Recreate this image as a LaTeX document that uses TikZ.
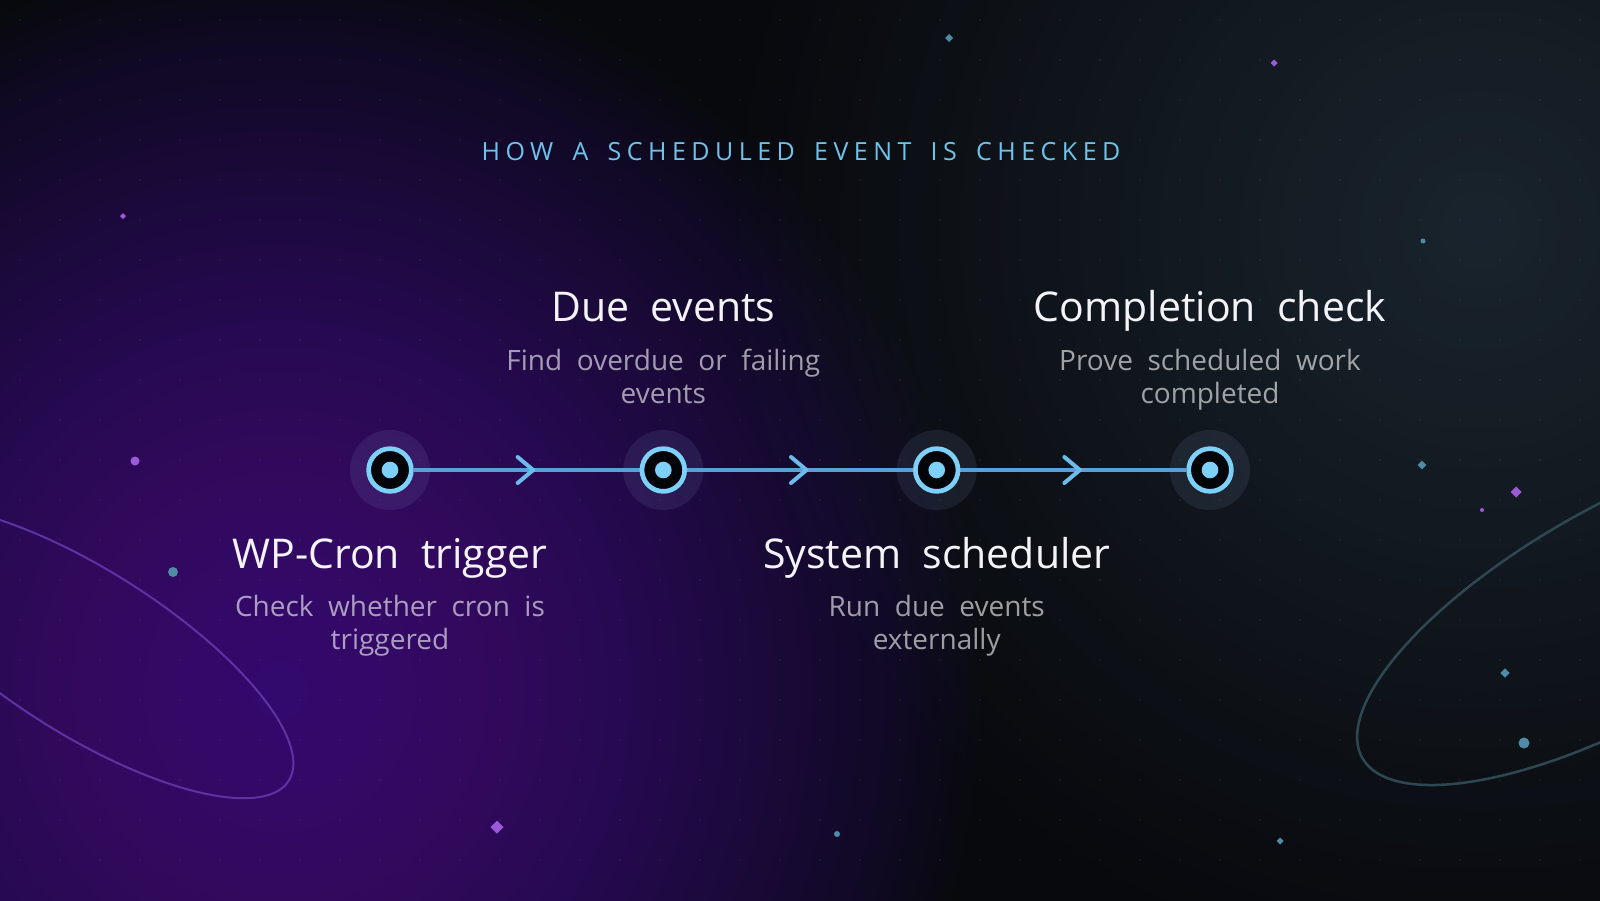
\documentclass[tikz,border=0pt]{standalone}
\usepackage{fontspec}
\setmainfont{Open Sans}
\newfontfamily\titlefont{Open Sans}[LetterSpace=22, WordSpace=1.6]
\newfontfamily\headfont{Open Sans}[WordSpace=1.6]
\newfontfamily\subfont{Open Sans}[WordSpace=2]
\usetikzlibrary{calc}
\definecolor{bgbase}{HTML}{08090D}
\definecolor{glowp}{HTML}{5C21A4}
\definecolor{glowt}{HTML}{1B2731}
\definecolor{ringc}{HTML}{7DD0F8}
\definecolor{linec}{HTML}{5AA0D6}
\definecolor{chevc}{HTML}{6CBBEB}
\definecolor{titlec}{HTML}{6FC3EB}
\definecolor{headc}{HTML}{F4F4F8}
\definecolor{sparkp}{HTML}{9B5BD8}
\definecolor{sparkt}{HTML}{4D8BA6}
\definecolor{ellp}{HTML}{5E32A3}
\definecolor{ellt}{HTML}{2D4852}
\definecolor{nodeblk}{HTML}{040509}
\definecolor{haloc}{HTML}{A8C8FF}
\pgfdeclarelayer{bg}
\pgfsetlayers{bg,main}
\newcommand\sparkd[3]{\fill[#1] (#2) +(0,-#3) -- +(#3,0) -- +(0,#3) -- +(-#3,0) -- cycle;}
\tikzset{
  halo/.style={circle, fill=haloc, fill opacity=0.09, minimum size=80pt, inner sep=0pt},
  ringnode/.style={circle, draw=ringc, line width=4.7pt, fill=nodeblk, minimum size=42.7pt, inner sep=0pt},
  corenode/.style={circle, fill=ringc, minimum size=16.6pt, inner sep=0pt},
  conn/.style={draw=linec, line width=4pt},
  chev/.style={draw=chevc, line width=4pt, line cap=round, line join=round},
  head/.style={anchor=base, text=headc, font=\headfont\fontsize{41}{49}\selectfont, inner sep=0pt},
  sub/.style={anchor=base, text=white, text opacity=0.6, font=\subfont\fontsize{28}{34}\selectfont, inner sep=0pt},
}
\begin{document}
\begin{tikzpicture}[x=1pt,y=-1pt]
\useasboundingbox (0,0) rectangle (1600,900);
% nodes (main layer)
\foreach \i/\x in {1/390,2/663.3,3/936.7,4/1210}{
  \node[ringnode] (r\i) at (\x,470) {};
  \node[corenode] (c\i) at (\x,470) {};
}
\begin{pgfonlayer}{bg}
\begin{scope}
\clip (-3,-3) rectangle (1603,903);
\fill[bgbase] (-3,-3) rectangle (1603,903);
\foreach \r [evaluate=\r as \p using {90*(1-\r/760)}] in {760,740,...,20}
  \fill[glowt!\p!bgbase] (1480,230) circle[radius=\r];
\foreach \r in {700,688,...,10} \fill[glowp, opacity=0.025] (280,690) ellipse[x radius=\r, y radius=1.05*\r];
\foreach \i in {0,...,39}{\foreach \j in {0,...,21}{\fill[white, opacity=0.05] ({20+40*\i},{20+40*\j}) circle[radius=1.3];}}
\draw[ellp, line width=2pt] plot[domain=0:357, samples=120, smooth cycle, variable=\t]
  ({85 + 241*cos(\t)*cos(32.3) - 82*sin(\t)*sin(32.3)}, {652 + 241*cos(\t)*sin(32.3) + 82*sin(\t)*cos(32.3)});
\draw[ellt, line width=2.5pt] plot[domain=0:357, samples=120, smooth cycle, variable=\t]
  ({1625 + 301*cos(\t)*cos(-29.2) - 107*sin(\t)*sin(-29.2)}, {611 + 301*cos(\t)*sin(-29.2) + 107*sin(\t)*cos(-29.2)});
\sparkd{sparkt}{949,38}{4}
\sparkd{sparkt}{1422,465}{4.3}
\sparkd{sparkt}{1505,673}{4.7}
\sparkd{sparkt}{1280,841}{3.5}
\sparkd{sparkp}{1274,63}{3.5}
\sparkd{sparkp}{123,216}{3}
\sparkd{sparkp}{1516,492}{5.5}
\sparkd{sparkp}{497,827}{6.5}
\fill[sparkt] (1423,241) circle[radius=2.5];
\fill[sparkt] (173,572) circle[radius=5];
\fill[sparkt] (1524,743) circle[radius=5.5];
\fill[sparkt] (837,834) circle[radius=3];
\fill[sparkp] (135,461) circle[radius=4.5];
\fill[sparkp] (1482,510) circle[radius=2];
\end{scope}
\foreach \i/\x in {1/390,2/663.3,3/936.7,4/1210}{
  \node[halo] (h\i) at (\x,470) {};
}
\foreach \a/\b in {1/2,2/3,3/4}{
  \draw[conn] (r\a) -- (r\b);
  \coordinate (m\a) at ($(r\a)!0.5!(r\b)$);
  \draw[chev] ($(m\a)+(-9,-13)$) -- ($(m\a)+(6.5,0)$) -- ($(m\a)+(-9,13)$);
}
\end{pgfonlayer}
% title
\node[anchor=base, text=titlec, font=\titlefont\fontsize{25}{30}\selectfont, inner sep=0pt] (title) at (801,160) {HOW A SCHEDULED EVENT IS CHECKED};
% labels
\node[head] (t2) at (663.3,321) {Due events};
\node[sub] (s2a) at (663.3,370) {Find overdue or failing};
\node[sub] (s2b) at (663.3,403) {events};
\node[head] (t4) at (1210,321) {Completion check};
\node[sub] (s4a) at (1210,370) {Prove scheduled work};
\node[sub] (s4b) at (1210,403) {completed};
\node[head] (t1) at (390,568) {WP-Cron trigger};
\node[sub] (s1a) at (390,616) {Check whether cron is};
\node[sub] (s1b) at (390,649) {triggered};
\node[head] (t3) at (936.7,568) {System scheduler};
\node[sub] (s3a) at (936.7,616) {Run due events};
\node[sub] (s3b) at (936.7,649) {externally};
\end{tikzpicture}
\end{document}
